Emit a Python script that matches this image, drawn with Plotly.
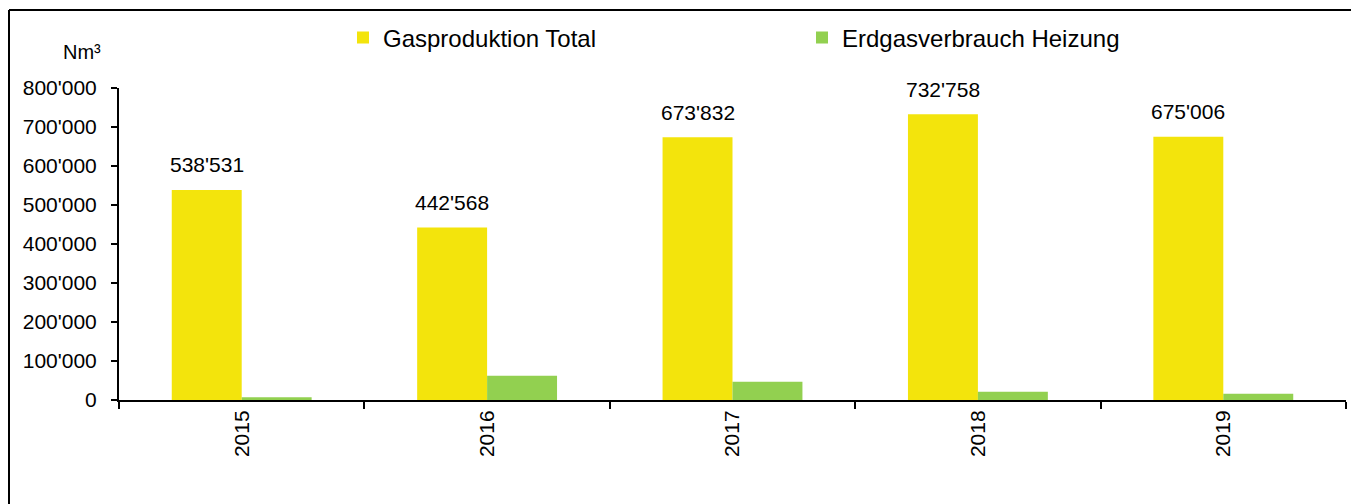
import plotly.graph_objects as go

years = ["2015", "2016", "2017", "2018", "2019"]
gasproduktion = [538531, 442568, 673832, 732758, 675006]
erdgas_heizung = [7000, 62000, 47000, 21000, 16000]
series_names = ["Gasproduktion Total", "Erdgasverbrauch Heizung"]
y_ticks = [0, 100000, 200000, 300000, 400000, 500000, 600000, 700000, 800000]

OFF = 8  # page body margin
W, H = 1359 - OFF, 504 - OFF
L, R, T, B = 111, 13, 80, 104
pw, ph = W - L - R, H - T - B

def px_x(sx):
    return (sx - OFF - L) / pw

def px_y(sy):
    return (H - B - (sy - OFF)) / ph

def fmt(v):
    return f"{v:,}".replace(",", "'")

font = "Liberation Sans, Arial, sans-serif"

fig = go.Figure()
fig.add_trace(go.Bar(x=years, y=gasproduktion, name=series_names[0],
                     marker=dict(color="#F3E40C", line=dict(width=0)),
                     legend="legend", showlegend=True))
fig.add_trace(go.Bar(x=years, y=erdgas_heizung, name=series_names[1],
                     marker=dict(color="#92D050", line=dict(width=0)),
                     legend="legend2", showlegend=True))

for i, v in enumerate(gasproduktion):
    fig.add_annotation(x=i, y=v, xref="x", yref="y", text=fmt(v),
                       showarrow=False, xshift=-35, yshift=25,
                       yanchor="middle", xanchor="center",
                       font=dict(size=21, color="black", family=font))

fig.add_annotation(x=px_x(103), y=px_y(52), xref="paper", yref="paper",
                   text="Nm³", showarrow=False, xanchor="right", yanchor="middle",
                   font=dict(size=20, color="black", family=font))

# outer frame
fig.add_shape(type="line", xref="paper", yref="paper",
              x0=px_x(9), x1=px_x(1400), y0=px_y(10), y1=px_y(10),
              line=dict(color="black", width=2))
fig.add_shape(type="line", xref="paper", yref="paper",
              x0=px_x(9), x1=px_x(9), y0=px_y(10), y1=px_y(560),
              line=dict(color="black", width=2))

fig.update_layout(
    width=W, height=H,
    margin=dict(l=L, r=R, t=T, b=B, autoexpand=False),
    paper_bgcolor="white", plot_bgcolor="white",
    barmode="group", bargap=0.43, bargroupgap=0,
    separators=".'",
    showlegend=True,
    font=dict(family=font, size=21, color="black"),
    legend=dict(orientation="h", x=px_x(343), y=px_y(38), xanchor="left",
                yanchor="middle", font=dict(size=24, family=font),
                bgcolor="rgba(0,0,0,0)"),
    legend2=dict(orientation="h", x=px_x(802), y=px_y(38), xanchor="left",
                 yanchor="middle", font=dict(size=24, family=font),
                 bgcolor="rgba(0,0,0,0)"),
    xaxis=dict(type="category", range=[-0.5, 4.5], showline=True,
               linecolor="black", linewidth=2,
               ticks="outside", tickson="boundaries", ticklen=7, tickwidth=2,
               tickcolor="black", tickangle=-90, showgrid=False,
               tickfont=dict(size=21, family=font, color="black")),
    yaxis=dict(range=[0, 800000], tickvals=y_ticks, tickformat=",d",
               showline=True, linecolor="black", linewidth=2,
               ticks="outside", ticklen=6, tickwidth=2, tickcolor="black",
               showgrid=False, zeroline=False, ticklabelstandoff=10,
               tickfont=dict(size=21, family=font, color="black")),
)

fig.write_html("out.html")
